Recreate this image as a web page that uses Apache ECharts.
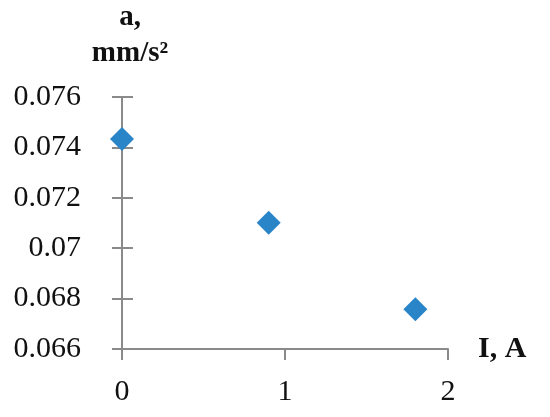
<!DOCTYPE html>
<html>
<head>
<meta charset="utf-8">
<script src="https://cdn.jsdelivr.net/npm/echarts@6/dist/echarts.min.js"></script>
<style>
  html, body { margin: 0; padding: 0; background: #fff; }
  #chart { width: 550px; height: 417px; }
</style>
</head>
<body>
<div id="chart"></div>
<script>
// current I (A) and acceleration a (mm/s^2)
var currentA = [0, 0.9, 1.8];
var accel = [0.07433, 0.07101, 0.06758];

var points = currentA.map(function (x, i) { return [x, accel[i]]; });

var font = 'Liberation Serif';
var axisColor = '#8a8a8a';

var chart = echarts.init(document.getElementById('chart'));
chart.setOption({
    animation: false,
    grid: { left: 122, right: 102, top: 97, bottom: 68, outerBoundsMode: 'none' },
    xAxis: {
        type: 'value',
        min: 0, max: 2, interval: 1,
        name: 'I, A',
        nameLocation: 'end',
        nameGap: 30,
        nameTextStyle: { fontFamily: font, fontWeight: 'bold', fontSize: 30, color: '#111' },
        axisLine: { lineStyle: { color: axisColor, width: 2 } },
        axisTick: { show: true, length: 11, lineStyle: { color: axisColor, width: 2 } },
        axisLabel: { fontFamily: font, fontSize: 30, color: '#111', margin: 28 },
        splitLine: { show: false }
    },
    yAxis: [{
        type: 'value',
        min: 0.066, max: 0.076, interval: 0.002,
        name: 'a,\nmm/s²',
        nameLocation: 'end',
        nameGap: 25,
        nameTextStyle: { fontFamily: font, fontWeight: 'bold', fontSize: 29, color: '#111', lineHeight: 36, align: 'center', padding: [0, 0, 0, 16] },
        axisLine: { show: true, lineStyle: { color: axisColor, width: 2 } },
        axisTick: { show: true, length: 10, lineStyle: { color: axisColor, width: 2 } },
        axisLabel: { fontFamily: font, fontSize: 30, color: '#111', margin: 41 },
        splitLine: { show: false }
    }, {
        // second copy only to draw the inner half of the crossing ticks
        type: 'value',
        position: 'left',
        min: 0.066, max: 0.076, interval: 0.002,
        axisLine: { show: false },
        axisTick: { show: true, inside: true, length: 11, lineStyle: { color: axisColor, width: 2 } },
        axisLabel: { show: false },
        splitLine: { show: false }
    }],
    series: [{
        type: 'scatter',
        data: points,
        symbol: 'diamond',
        symbolSize: 24,
        itemStyle: { color: '#2a84c8', opacity: 1 }
    }]
});
</script>
</body>
</html>
